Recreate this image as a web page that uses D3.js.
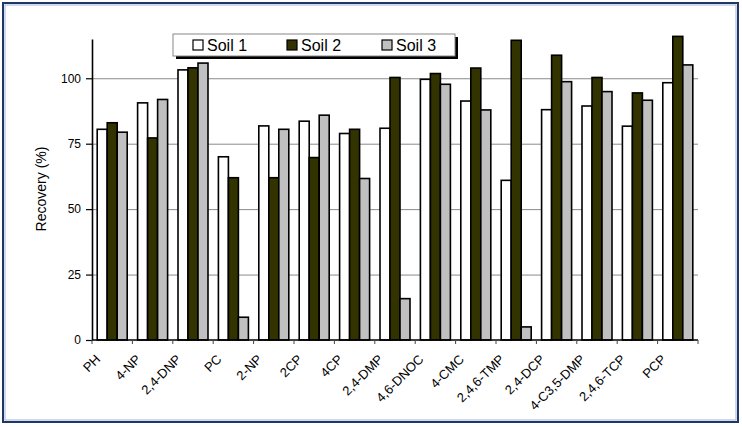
<!DOCTYPE html>
<html><head><meta charset="utf-8">
<script src="https://cdn.jsdelivr.net/npm/d3@7"></script>
<style>body{margin:0;background:#fff;} svg{display:block;font-family:"Liberation Sans",Arial,sans-serif;}</style>
</head><body>
<svg id="c" width="742" height="427"></svg>
<script>
const categories = ["PH","4-NP","2,4-DNP","PC","2-NP","2CP","4CP","2,4-DMP","4,6-DNOC","4-CMC","2,4,6-TMP","2,4-DCP","4-C3,5-DMP","2,4,6-TCP","PCP"];
const soil1 = [80.5,90.6,103.2,70,81.8,83.6,78.9,80.9,99.6,91.3,61,88,89.4,81.7,98.3];
const soil2 = [83,77.2,104,62,62,69.7,80.5,100.3,101.8,103.9,114.5,108.8,100.3,94.4,116];
const soil3 = [79.4,91.9,105.8,8.7,80.5,85.9,61.7,15.8,97.7,87.9,5,98.7,94.9,91.6,105.1];
const seriesNames = ["Soil 1","Soil 2","Soil 3"];
const seriesColors = ["#ffffff","#333300","#c0c0c0"];
const yTicks = [0,25,50,75,100];

const svg = d3.select("#c");
// frame
svg.append("rect").attr("x",3).attr("y",3).attr("width",735).attr("height",419)
  .attr("fill","#fff").attr("stroke","#1f3668").attr("stroke-width",2);
svg.append("rect").attr("x",5).attr("y",5).attr("width",731).attr("height",415)
  .attr("fill","none").attr("stroke","#9fb3d8").attr("stroke-width",1);

const pL=92, pR=698, pT=39, pB=340;
const x = d3.scaleBand().domain(categories).range([pL,pR]).paddingInner(0).paddingOuter(0);
const xs = d3.scaleBand().domain(seriesNames).range([0,x.bandwidth()]).paddingInner(0).paddingOuter(0.52);
const y = d3.scaleLinear().domain([0,115]).range([pB,pT]);

// gridlines
svg.append("g").selectAll("line").data(yTicks.filter(d=>d>0)).join("line")
  .attr("x1",pL).attr("x2",pR).attr("y1",d=>y(d)+0.5).attr("y2",d=>y(d)+0.5)
  .attr("stroke","#8a8a8a").attr("stroke-width",1);

// bars
const series=[soil1,soil2,soil3];
series.forEach((vals,si)=>{
  svg.append("g").selectAll("rect").data(categories).join("rect")
    .attr("x",c=>x(c)+xs(seriesNames[si]))
    .attr("width",xs.bandwidth())
    .attr("y",(c,i)=>y(vals[i]))
    .attr("height",(c,i)=>pB-y(vals[i]))
    .attr("fill",seriesColors[si]).attr("stroke","#000").attr("stroke-width",1.6);
});

// y axis
const ya = svg.append("g").attr("transform",`translate(${pL},0)`)
  .call(d3.axisLeft(y).tickValues(yTicks).tickSize(6).tickPadding(5).tickSizeOuter(0));
ya.select(".domain").attr("stroke","#000").attr("stroke-width",1.6);
ya.selectAll(".tick line").attr("stroke","#000").attr("stroke-width",1.2);
ya.selectAll("text").attr("font-size",12).attr("fill","#000");

// x axis
const xa = svg.append("g").attr("transform",`translate(0,${pB})`);
xa.append("line").attr("x1",pL).attr("x2",pR).attr("y1",0).attr("y2",0).attr("stroke","#000").attr("stroke-width",1.6);
const bounds = categories.map(c=>x(c)).concat([pR]);
xa.selectAll("line.tk").data(bounds).join("line").attr("class","tk")
  .attr("x1",d=>d).attr("x2",d=>d).attr("y1",0).attr("y2",4).attr("stroke","#444").attr("stroke-width",1);
xa.selectAll("text").data(categories).join("text")
  .attr("transform",c=>`translate(${x(c)+x.bandwidth()/2-11},20) rotate(-45)`)
  .attr("text-anchor","end").attr("font-size",13).attr("fill","#000").text(c=>c);

// y label
svg.append("text").attr("transform",`translate(46,189) rotate(-90)`)
  .attr("text-anchor","middle").attr("font-size",14).attr("fill","#000").text("Recovery (%)");

// legend
const lg = svg.append("g");
lg.append("rect").attr("x",176).attr("y",37).attr("width",282).attr("height",22).attr("fill","#000");
lg.append("rect").attr("x",173).attr("y",34).attr("width",282).attr("height",22).attr("fill","#fff").attr("stroke","#888").attr("stroke-width",1);
const lx = [193,287,382];
seriesNames.forEach((n,i)=>{
  lg.append("rect").attr("x",lx[i]).attr("y",40).attr("width",10).attr("height",10)
    .attr("fill",seriesColors[i]).attr("stroke","#000").attr("stroke-width",1.2);
  lg.append("text").attr("x",lx[i]+14).attr("y",51).attr("font-size",16).attr("fill","#000").text(n);
});
</script>
</body></html>
